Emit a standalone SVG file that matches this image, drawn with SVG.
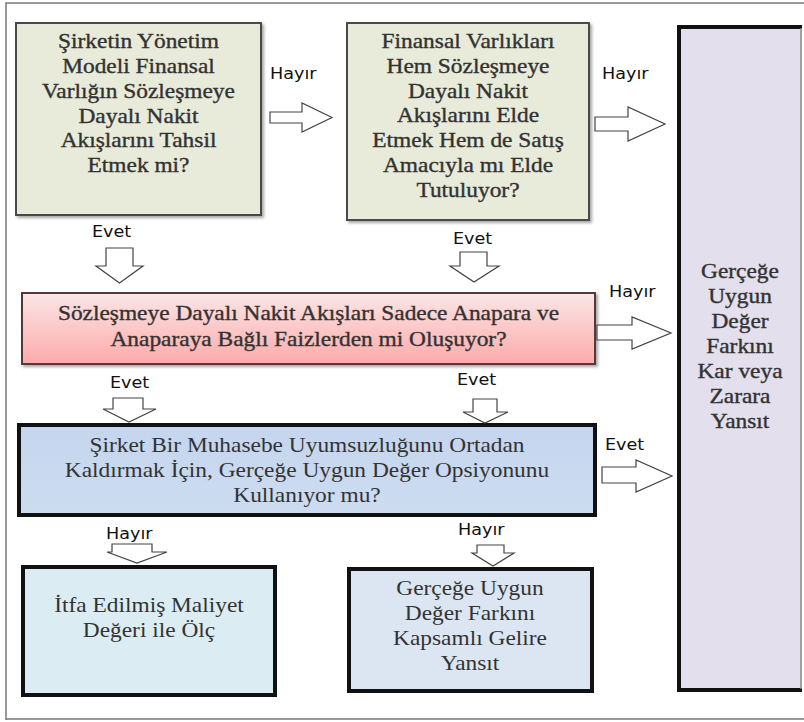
<svg xmlns="http://www.w3.org/2000/svg" width="804" height="722" viewBox="0 0 804 722">
<defs>
<style>
.t{font-family:"Liberation Serif","Times New Roman",serif;font-size:20px;fill:#333;text-anchor:middle}
.h{stroke:#333;stroke-width:0.35}
.l{font-family:"DejaVu Sans",Verdana,sans-serif;font-size:16px;fill:#111}
.ar{fill:#fff;stroke:#444;stroke-width:1.2;stroke-linejoin:miter}
.tb{stroke:#111;stroke-width:4}
</style>
<linearGradient id="pk" x1="0" y1="0" x2="0" y2="1">
<stop offset="0" stop-color="#fbe6e6"/>
<stop offset="1" stop-color="#fdaaaa"/>
</linearGradient>
<linearGradient id="bl" x1="0" y1="0" x2="0" y2="1">
<stop offset="0" stop-color="#c4d5ee"/>
<stop offset="1" stop-color="#cddcf0"/>
</linearGradient>
<filter id="sh" x="-5%" y="-5%" width="115%" height="120%">
<feDropShadow dx="2" dy="2" stdDeviation="1.5" flood-color="#000" flood-opacity="0.35"/>
</filter>
</defs>
<rect width="804" height="722" fill="#fff"/>
<path d="M6,720 V3 H804 M6,719 H804" fill="none" stroke="#777" stroke-width="1.5"/>

<g id="node-q1">
<rect x="16" y="23" width="245" height="192" fill="#e9ebda" stroke="#4a4a4a" stroke-width="2" filter="url(#sh)"/>
<g transform="translate(138.5 0) scale(1.17 1)" class="t h">
<text x="0" y="48">Şirketin Yönetim</text>
<text x="0" y="73">Modeli Finansal</text>
<text x="0" y="98">Varlığın Sözleşmeye</text>
<text x="0" y="123">Dayalı Nakit</text>
<text x="0" y="147">Akışlarını Tahsil</text>
<text x="0" y="172">Etmek mi?</text>
</g>
</g>

<g id="node-q2">
<rect x="347" y="23" width="242" height="197" fill="#e9ebda" stroke="#4a4a4a" stroke-width="2" filter="url(#sh)"/>
<g transform="translate(468 0) scale(1.17 1)" class="t h">
<text x="0" y="48">Finansal Varlıkları</text>
<text x="0" y="73">Hem Sözleşmeye</text>
<text x="0" y="98">Dayalı Nakit</text>
<text x="0" y="122">Akışlarını Elde</text>
<text x="0" y="147">Etmek Hem de Satış</text>
<text x="0" y="172">Amacıyla mı Elde</text>
<text x="0" y="197">Tutuluyor?</text>
</g>
</g>

<g id="node-fvpl">
<rect x="677" y="25" width="125" height="667" fill="#e4dfec"/>
<path d="M802,27 H679 V690 H802" fill="none" class="tb"/>
<path d="M801,28 V689" stroke="#888" stroke-width="1.5"/>
<g transform="translate(740 0) scale(1.17 1)" class="t h">
<text x="0" y="278">Gerçeğe</text>
<text x="0" y="303">Uygun</text>
<text x="0" y="328">Değer</text>
<text x="0" y="353">Farkını</text>
<text x="0" y="378">Kar veya</text>
<text x="0" y="403">Zarara</text>
<text x="0" y="428">Yansıt</text>
</g>
</g>

<g id="node-q3">
<rect x="22" y="293" width="573" height="71" fill="url(#pk)" stroke="#553838" stroke-width="2" filter="url(#sh)"/>
<g transform="translate(308.5 0) scale(1.17 1)" class="t h">
<text x="0" y="320">Sözleşmeye Dayalı Nakit Akışları Sadece Anapara ve</text>
<text x="0" y="346">Anaparaya Bağlı Faizlerden mi Oluşuyor?</text>
</g>
</g>

<g id="node-q4">
<rect x="19" y="425" width="576" height="90" fill="url(#bl)" class="tb"/>
<g transform="translate(307 0) scale(1.17 1)" class="t">
<text x="0" y="452">Şirket Bir Muhasebe Uyumsuzluğunu Ortadan</text>
<text x="0" y="477">Kaldırmak İçin, Gerçeğe Uygun Değer Opsiyonunu</text>
<text x="0" y="502">Kullanıyor mu?</text>
</g>
</g>

<g id="node-amortised">
<rect x="23" y="567" width="252" height="128" fill="#dbedf3" class="tb"/>
<g transform="translate(149 0) scale(1.17 1)" class="t">
<text x="0" y="612">İtfa Edilmiş Maliyet</text>
<text x="0" y="637">Değeri ile Ölç</text>
</g>
</g>

<g id="node-fvoci">
<rect x="349" y="569" width="243" height="122" fill="#dce6f2" class="tb"/>
<g transform="translate(470 0) scale(1.17 1)" class="t">
<text x="0" y="595">Gerçeğe Uygun</text>
<text x="0" y="620">Değer Farkını</text>
<text x="0" y="645">Kapsamlı Gelire</text>
<text x="0" y="670">Yansıt</text>
</g>
</g>

<g id="connectors">
<path class="ar" d="M270,112 H302 V103 L332,117.5 L302,132 V123 H270 Z"/>
<path class="ar" d="M595,117 H628 V107 L665,124 L628,141 V131 H595 Z"/>
<path class="ar" d="M597,325 H632 V317 L671,333 L632,349 V340 H597 Z"/>
<path class="ar" d="M602,467 H636 V460 L672,476 L636,492 V483 H602 Z"/>
<path class="ar" d="M106,248 H133 V266 H143 L119.5,283 L96,266 H106 Z"/>
<path class="ar" d="M460,252 H487 V266 H499 L474,282 L450,266 H460 Z"/>
<path class="ar" d="M113,398 H143 V409 H156 L129,422 L103,409 H113 Z"/>
<path class="ar" d="M473,399 H497 V412 H508 L485,423 L463,412 H473 Z"/>
<path class="ar" d="M112,544 H152 V552 H167 L137,563 L107,552 H112 Z"/>
<path class="ar" d="M477,545 H504 V553 H514 L493,566 L472,553 H477 Z"/>
<g class="l">
<text transform="translate(270 79) scale(1.1 1)">Hayır</text>
<text transform="translate(602 79) scale(1.1 1)">Hayır</text>
<text transform="translate(92 237) scale(1.1 1)">Evet</text>
<text transform="translate(453 244) scale(1.1 1)">Evet</text>
<text transform="translate(609 297) scale(1.1 1)">Hayır</text>
<text transform="translate(110 388) scale(1.1 1)">Evet</text>
<text transform="translate(457 385) scale(1.1 1)">Evet</text>
<text transform="translate(605 450) scale(1.1 1)">Evet</text>
<text transform="translate(106 539) scale(1.1 1)">Hayır</text>
<text transform="translate(458 535) scale(1.1 1)">Hayır</text>
</g>
</g>
</svg>
